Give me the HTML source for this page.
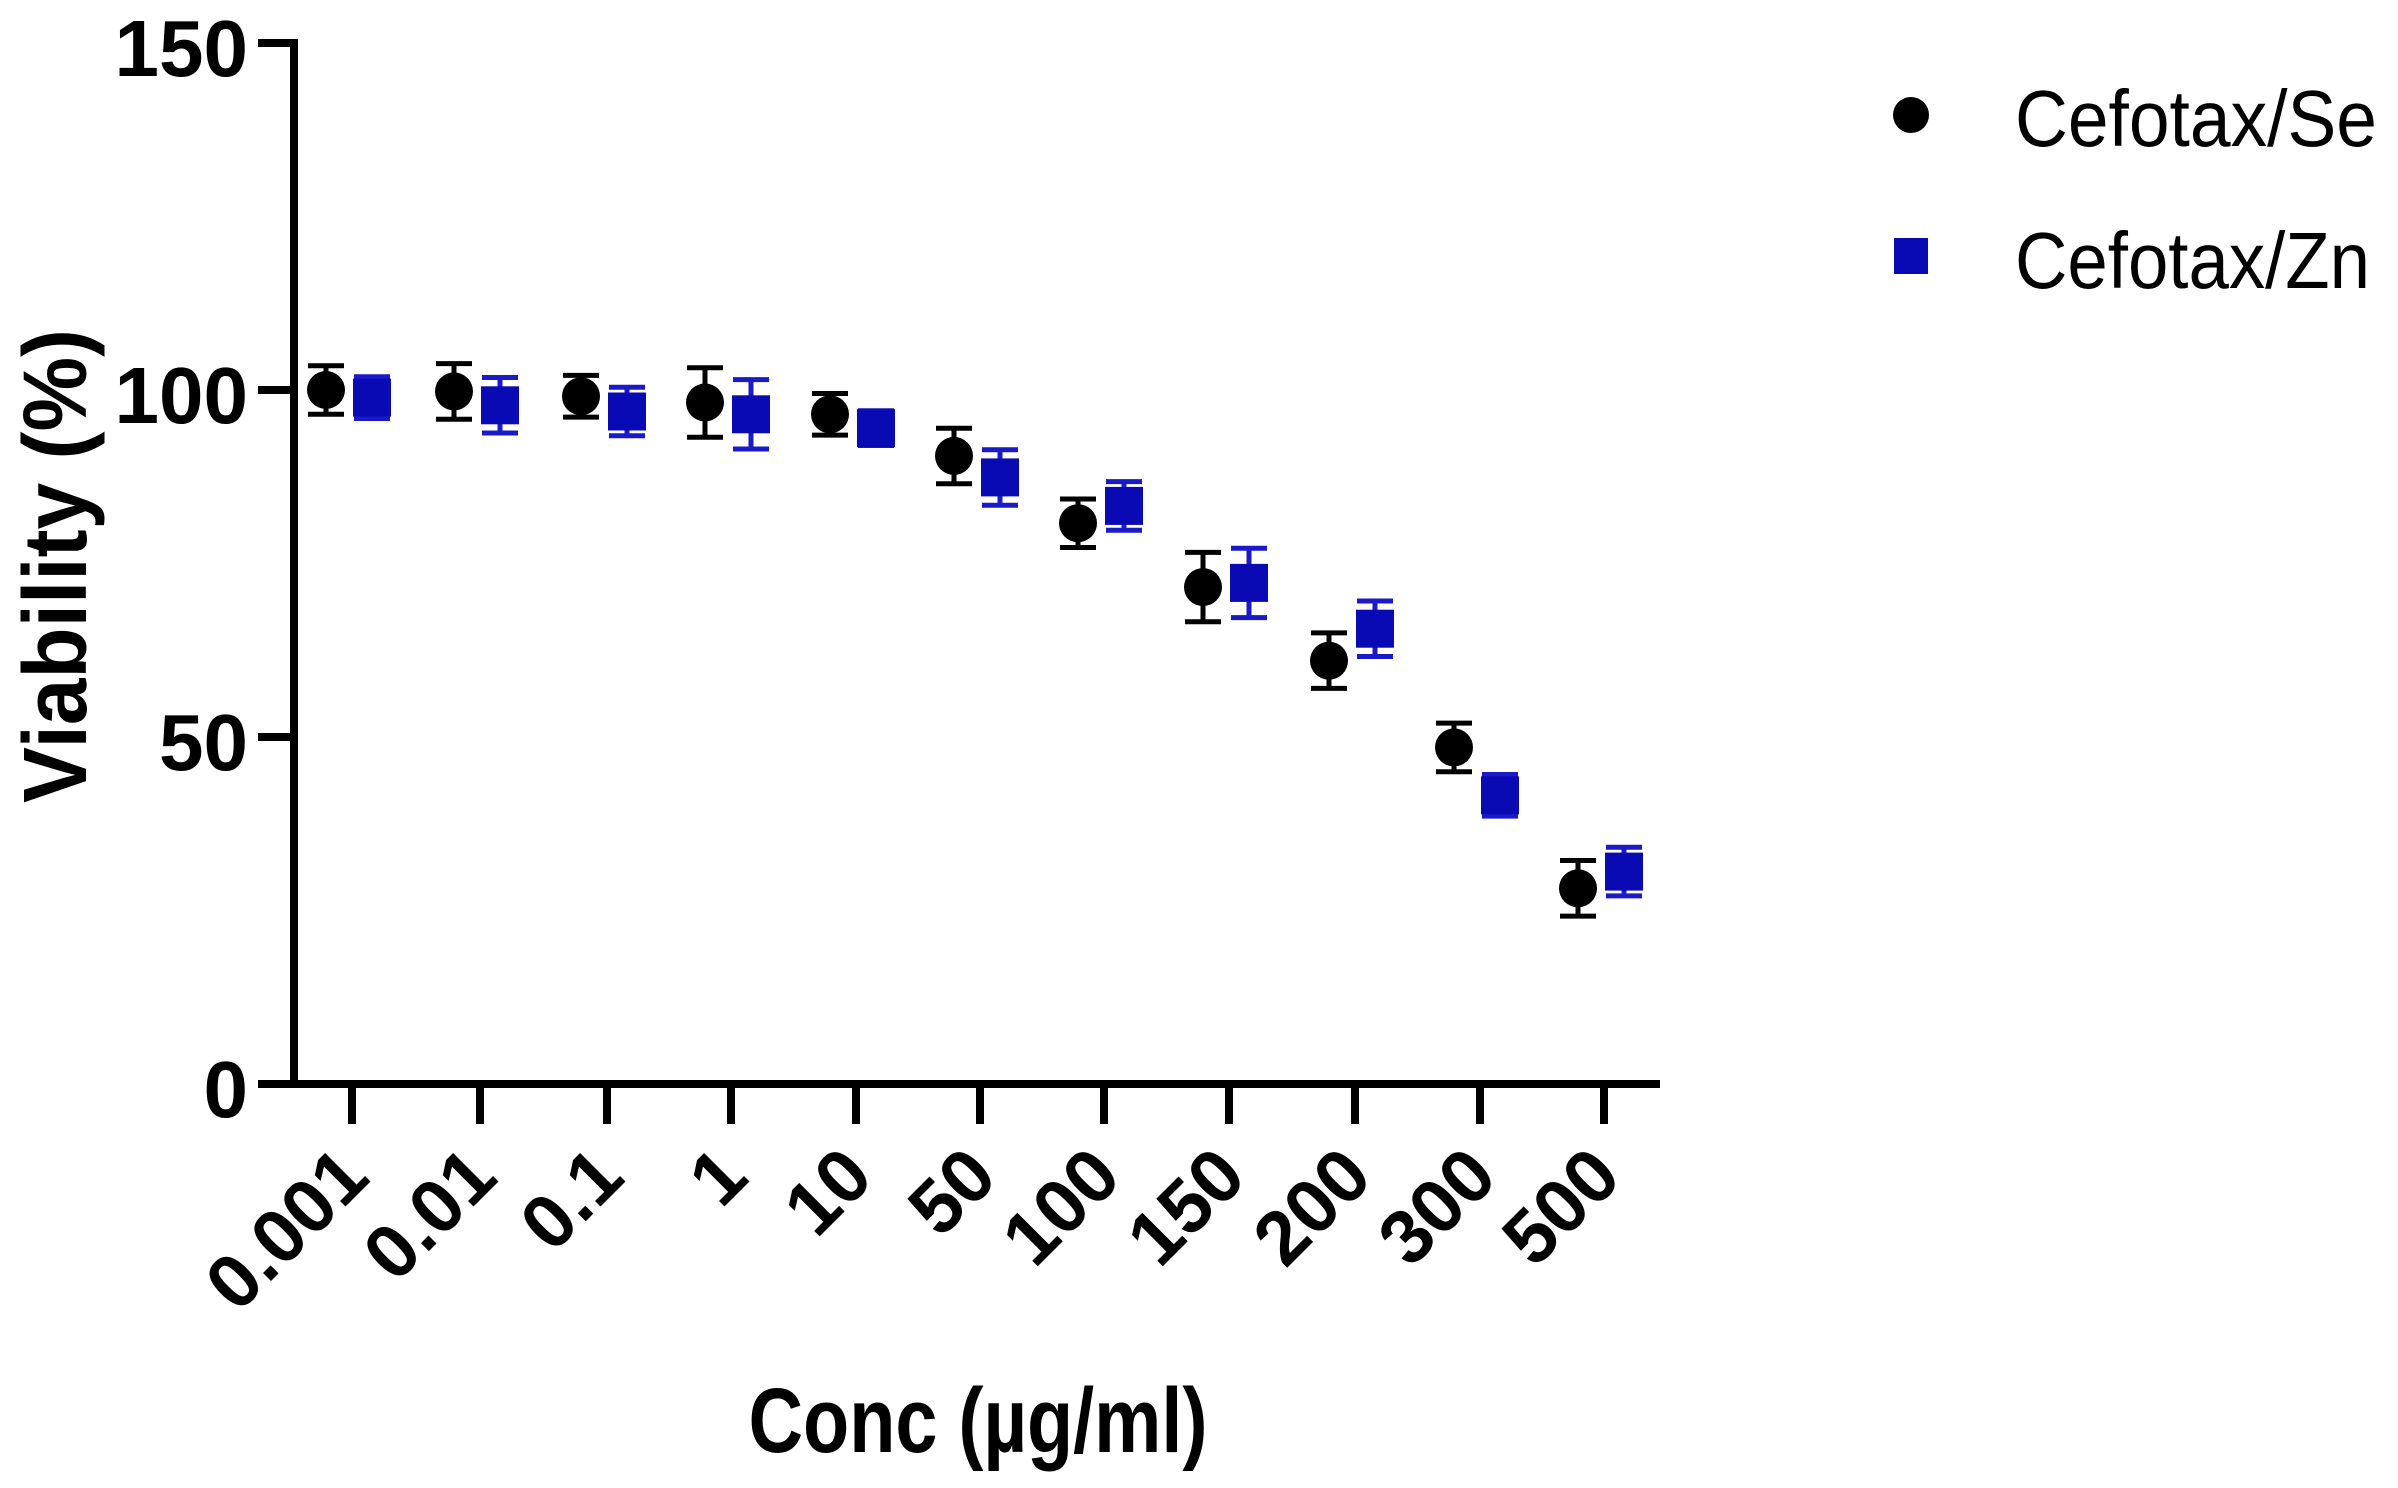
<!DOCTYPE html>
<html><head><meta charset="utf-8"><style>
html,body{margin:0;padding:0;background:#fff;}
svg{display:block;}
text{font-family:"Liberation Sans",Arial,sans-serif;}
</style></head><body>
<svg width="2398" height="1488" viewBox="0 0 2398 1488" xmlns="http://www.w3.org/2000/svg">
<g stroke="#000" stroke-width="8" fill="none">
<line x1="294" y1="39" x2="294" y2="1088"/>
<line x1="290" y1="1084" x2="1660" y2="1084"/>
<line x1="258" y1="43" x2="294" y2="43"/>
<line x1="258" y1="390" x2="294" y2="390"/>
<line x1="258" y1="737" x2="294" y2="737"/>
<line x1="258" y1="1084" x2="294" y2="1084"/>
<path d="M352 1084V1124M480 1084V1124M607 1084V1124M731 1084V1124M856 1084V1124M980 1084V1124M1104 1084V1124M1229 1084V1124M1355 1084V1124M1480 1084V1124M1604 1084V1124"/>
</g>
<g font-weight="bold" font-size="80" text-anchor="end" fill="#000">
<text x="248" y="76">150</text>
<text x="248" y="423">100</text>
<text x="248" y="770">50</text>
<text x="248" y="1117">0</text>
</g>
<g font-weight="bold" font-size="76" text-anchor="end" fill="#000">
<text transform="translate(372,1180) rotate(-45)">0.001</text>
<text transform="translate(500,1180) rotate(-45)">0.01</text>
<text transform="translate(627,1180) rotate(-45)">0.1</text>
<text transform="translate(751,1180) rotate(-45)">1</text>
<text transform="translate(876,1180) rotate(-45)">10</text>
<text transform="translate(1000,1180) rotate(-45)">50</text>
<text transform="translate(1124,1180) rotate(-45)">100</text>
<text transform="translate(1249,1180) rotate(-45)">150</text>
<text transform="translate(1375,1180) rotate(-45)">200</text>
<text transform="translate(1500,1180) rotate(-45)">300</text>
<text transform="translate(1624,1180) rotate(-45)">500</text>
</g>
<text transform="translate(86,566) rotate(-90)" font-weight="bold" font-size="90" text-anchor="middle" textLength="474" lengthAdjust="spacingAndGlyphs">Viability (%)</text>
<text x="978" y="1452" font-weight="bold" font-size="92" text-anchor="middle" textLength="459" lengthAdjust="spacingAndGlyphs">Conc (µg/ml)</text>
<circle cx="1911" cy="115" r="18" fill="#000"/>
<rect x="1894" y="238" width="34" height="36" fill="#0a0ab4"/>
<text x="2015" y="146" font-size="80" textLength="362" lengthAdjust="spacingAndGlyphs">Cefotax/Se</text>
<text x="2015" y="288" font-size="80" textLength="355" lengthAdjust="spacingAndGlyphs">Cefotax/Zn</text>
<path stroke="#000" stroke-width="5" fill="none" d="
M326 365.7V414.3M308 365.7H344M308 414.3H344
M454 363.6V419.2M436 363.6H472M436 419.2H472
M581 375.4V417.1M563 375.4H599M563 417.1H599
M705 367.8V437.2M687 367.8H723M687 437.2H723
M830 393.5V435.1M812 393.5H848M812 435.1H848
M954 428.2V483.7M936 428.2H972M936 483.7H972
M1078 499V547.5M1060 499H1096M1060 547.5H1096
M1203 552.4V621.8M1185 552.4H1221M1185 621.8H1221
M1329 632.9V688.4M1311 632.9H1347M1311 688.4H1347
M1454 723.1V771.7M1436 723.1H1472M1436 771.7H1472
M1578 860.5V916.1M1560 860.5H1596M1560 916.1H1596"/>
<g fill="#000">
<circle cx="326" cy="390" r="19"/><circle cx="454" cy="391.4" r="19"/><circle cx="581" cy="396.3" r="19"/>
<circle cx="705" cy="402.5" r="19"/><circle cx="830" cy="414.3" r="19"/><circle cx="954" cy="455.9" r="19"/>
<circle cx="1078" cy="523.2" r="19"/><circle cx="1203" cy="587.1" r="19"/><circle cx="1329" cy="660.7" r="19"/>
<circle cx="1454" cy="747.4" r="19"/><circle cx="1578" cy="888.3" r="19"/>
</g>
<path stroke="#1a1ac8" stroke-width="5" fill="none" d="
M372 376.8V418.5M354 376.8H390M354 418.5H390
M500 377.5V433M482 377.5H518M482 433H518
M627 387.2V435.8M609 387.2H645M609 435.8H645
M751 379.6V449M733 379.6H769M733 449H769
M876 410.8V445.5M858 410.8H894M858 445.5H894
M1000 449.7V505.2M982 449.7H1018M982 505.2H1018
M1124 481.6V530.2M1106 481.6H1142M1106 530.2H1142
M1249 548.2V617.6M1231 548.2H1267M1231 617.6H1267
M1375 601V656.5M1357 601H1393M1357 656.5H1393
M1500 774.5V816.1M1482 774.5H1518M1482 816.1H1518
M1624 847.3V895.9M1606 847.3H1642M1606 895.9H1642"/>
<g fill="#0a0ab4">
<rect x="353" y="378.6" width="38" height="38"/><rect x="481" y="386.3" width="38" height="38"/>
<rect x="608" y="392.5" width="38" height="38"/><rect x="732" y="395.3" width="38" height="38"/>
<rect x="857" y="409.2" width="38" height="38"/><rect x="981" y="458.4" width="38" height="38"/>
<rect x="1105" y="486.9" width="38" height="38"/><rect x="1230" y="563.9" width="38" height="38"/>
<rect x="1356" y="609.7" width="38" height="38"/><rect x="1481" y="776.3" width="38" height="38"/>
<rect x="1605" y="852.6" width="38" height="38"/>
</g>
</svg>
</body></html>
